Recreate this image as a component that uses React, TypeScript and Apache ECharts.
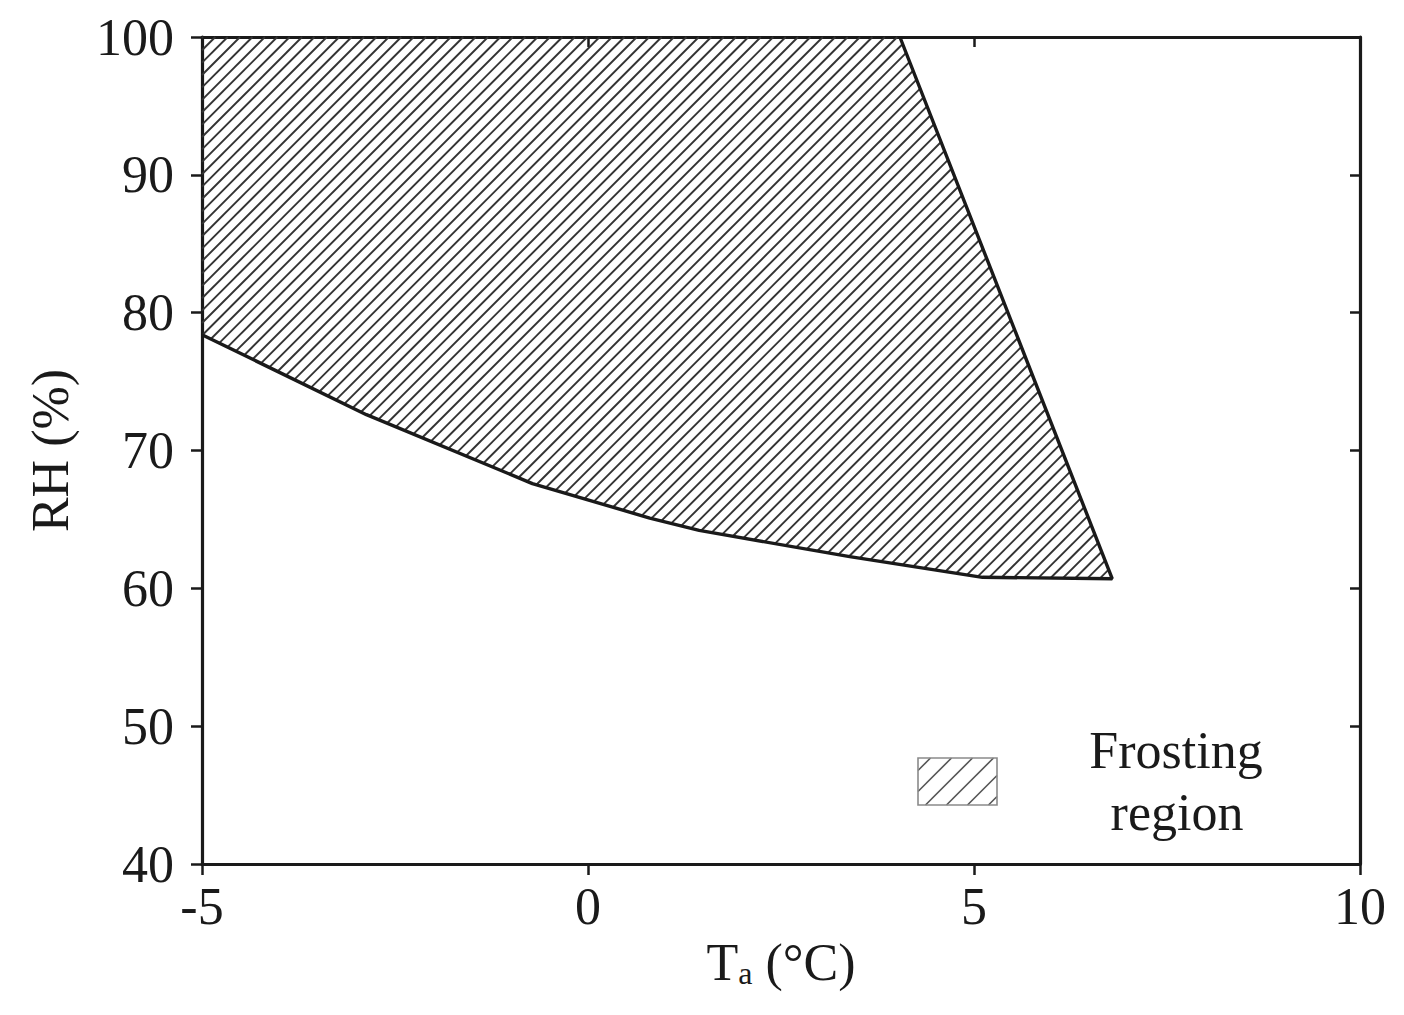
import React, { useEffect, useRef } from "react";
import * as echarts from "echarts";

// ---- data ----
const T_MIN = -5;
const T_MAX = 10;
const T_STEP = 5;
const RH_MIN = 40;
const RH_MAX = 100;
const RH_STEP = 10;

// frosting region boundary (clockwise from top-left), Ta in °C, RH in %
const frostT = [-5, 4.04, 6.79, 5.11, 3.39, 1.44, 0.8, -0.72, -1.15, -2.87, -5];
const frostRH = [100, 100, 60.7, 60.8, 62.3, 64.2, 65.1, 67.6, 68.6, 72.6, 78.4];

const legendLines = ["Frosting", "region"];
const xName = "{b|T}{s|a}{b| (°C)}";
const yName = "RH (%)";

const FONT = "'Liberation Serif', 'Times New Roman', serif";
const INK = "#1a1a1a";

function hatch(pts: number[][], angleDeg: number, spacingX: number, phase = 0) {
  const th = (angleDeg * Math.PI) / 180;
  const s = Math.sin(th);
  const c = Math.cos(th);
  const step = spacingX * s;
  const ds = pts.map((p) => p[0] * s + p[1] * c);
  const dmin = Math.min(...ds);
  const dmax = Math.max(...ds);
  const segs: number[][][] = [];
  for (let d = Math.ceil((dmin - phase) / step) * step + phase; d <= dmax; d += step) {
    const hits: number[][] = [];
    for (let i = 0; i < pts.length; i++) {
      const j = (i + 1) % pts.length;
      const a = pts[i];
      const b = pts[j];
      const fa = ds[i] - d;
      const fb = ds[j] - d;
      if (fa < 0 !== fb < 0) {
        const t = fa / (fa - fb);
        hits.push([a[0] + t * (b[0] - a[0]), a[1] + t * (b[1] - a[1])]);
      }
    }
    hits.sort((p, q) => p[0] - q[0]);
    for (let k = 0; k + 1 < hits.length; k += 2) segs.push([hits[k], hits[k + 1]]);
  }
  return segs;
}

export default function App() {
  const ref = useRef<HTMLDivElement>(null);

  useEffect(() => {
    if (!ref.current) return;
    const chart = echarts.init(ref.current, null, { renderer: "svg" });

    const outline = frostT.map((t, i) => [t, frostRH[i]]).slice(1).reverse();

    const legendBox = { x: 918, y: 758, w: 79, h: 47 };
    const legendPts = [
      [legendBox.x, legendBox.y],
      [legendBox.x + legendBox.w, legendBox.y],
      [legendBox.x + legendBox.w, legendBox.y + legendBox.h],
      [legendBox.x, legendBox.y + legendBox.h],
    ];
    const legendSegs = hatch(legendPts, 45, 21, 6);

    const axisLineStyle = { color: INK, width: 3.2 };
    const labelStyle = { fontFamily: FONT, fontSize: 52, color: INK };

    const option: any = {
      animation: false,
      backgroundColor: "#fff",
      grid: { left: 202, right: 44, top: 37, bottom: 151, containLabel: false },
      xAxis: [
        {
          type: "value",
          min: T_MIN,
          max: T_MAX,
          interval: T_STEP,
          position: "bottom",
          name: xName,
          nameLocation: "middle",
          nameGap: 72,
          nameTextStyle: {
            fontFamily: FONT,
            color: INK,
            rich: {
              b: { fontFamily: FONT, fontSize: 52, color: INK, verticalAlign: "bottom" },
              s: { fontFamily: FONT, fontSize: 32, color: INK, verticalAlign: "bottom" },
            },
          },
          axisLine: { show: true, onZero: false, lineStyle: axisLineStyle },
          axisTick: { show: true, inside: false, length: 11, lineStyle: { color: INK, width: 2.5 } },
          axisLabel: { ...labelStyle, margin: 16 },
          splitLine: { show: false },
        },
        {
          type: "value",
          min: T_MIN,
          max: T_MAX,
          interval: T_STEP,
          position: "top",
          axisLine: { show: true, onZero: false, lineStyle: axisLineStyle },
          axisTick: { show: true, inside: true, length: 10, lineStyle: { color: INK, width: 2.5 } },
          axisLabel: { show: false },
          splitLine: { show: false },
        },
      ],
      yAxis: [
        {
          type: "value",
          min: RH_MIN,
          max: RH_MAX,
          interval: RH_STEP,
          position: "left",
          name: yName,
          nameLocation: "middle",
          nameGap: 126,
          nameTextStyle: { fontFamily: FONT, fontSize: 52, color: INK },
          axisLine: { show: true, onZero: false, lineStyle: axisLineStyle },
          axisTick: { show: true, inside: false, length: 11, lineStyle: { color: INK, width: 2.5 } },
          axisLabel: { ...labelStyle, margin: 28 },
          splitLine: { show: false },
        },
        {
          type: "value",
          min: RH_MIN,
          max: RH_MAX,
          interval: RH_STEP,
          position: "right",
          axisLine: { show: true, onZero: false, lineStyle: axisLineStyle },
          axisTick: { show: true, inside: true, length: 10, lineStyle: { color: INK, width: 2.5 } },
          axisLabel: { show: false },
          splitLine: { show: false },
        },
      ],
      series: [
        {
          type: "custom",
          name: "Frosting region",
          xAxisIndex: 0,
          yAxisIndex: 0,
          silent: true,
          clip: false,
          data: [[frostT[0], frostRH[0]]],
          renderItem: (params: any, api: any) => {
            if (params.dataIndex !== 0) return null;
            const pts = frostT.map((t, i) => api.coord([t, frostRH[i]]));
            const segs = hatch(pts, 45, 12.4, 3);
            return {
              type: "group",
              children: segs.map(([a, b]) => ({
                type: "line",
                shape: { x1: a[0], y1: a[1], x2: b[0], y2: b[1] },
                style: { stroke: "#333", lineWidth: 1.9 },
              })),
            };
          },
        },
        {
          type: "line",
          name: "boundary",
          xAxisIndex: 0,
          yAxisIndex: 0,
          data: outline,
          symbol: "none",
          silent: true,
          lineStyle: { color: INK, width: 3.4 },
          z: 5,
        },
      ],
      graphic: [
        {
          type: "group",
          silent: true,
          children: [
            ...legendSegs.map(([a, b]) => ({
              type: "line",
              shape: { x1: a[0], y1: a[1], x2: b[0], y2: b[1] },
              style: { stroke: "#555", lineWidth: 1.6 },
            })),
            {
              type: "rect",
              shape: { x: legendBox.x, y: legendBox.y, width: legendBox.w, height: legendBox.h },
              style: { fill: "none", stroke: "#8a8a8a", lineWidth: 1.6 },
            },
            {
              type: "text",
              x: 1176,
              y: 750,
              style: {
                text: legendLines[0],
                fontFamily: FONT,
                fontSize: 52,
                fill: INK,
                align: "center",
                verticalAlign: "middle",
              },
            },
            {
              type: "text",
              x: 1177,
              y: 812,
              style: {
                text: legendLines[1],
                fontFamily: FONT,
                fontSize: 52,
                fill: INK,
                align: "center",
                verticalAlign: "middle",
              },
            },
          ],
        },
      ],
    };

    chart.setOption(option);
    return () => chart.dispose();
  }, []);

  return <div ref={ref} style={{ width: 1404, height: 1015, margin: -8 }} />;
}
